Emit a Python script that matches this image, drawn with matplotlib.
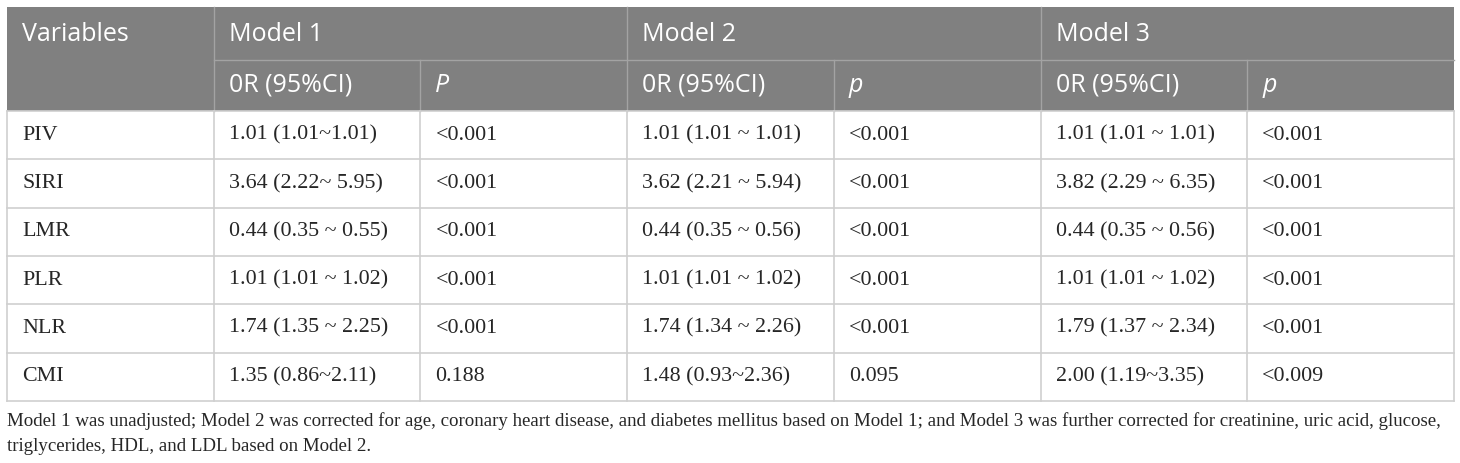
import matplotlib
matplotlib.use('Agg')
import matplotlib.pyplot as plt
from matplotlib.patches import Rectangle

# table content
variables = ['PIV', 'SIRI', 'LMR', 'PLR', 'NLR', 'CMI']
models = ['Model 1', 'Model 2', 'Model 3']
sub_headers = ['0R (95%CI)', 'P', '0R (95%CI)', 'p', '0R (95%CI)', 'p']
model1_or = ['1.01 (1.01~1.01)', '3.64 (2.22~ 5.95)', '0.44 (0.35 ~ 0.55)',
             '1.01 (1.01 ~ 1.02)', '1.74 (1.35 ~ 2.25)', '1.35 (0.86~2.11)']
model1_p = ['<0.001', '<0.001', '<0.001', '<0.001', '<0.001', '0.188']
model2_or = ['1.01 (1.01 ~ 1.01)', '3.62 (2.21 ~ 5.94)', '0.44 (0.35 ~ 0.56)',
             '1.01 (1.01 ~ 1.02)', '1.74 (1.34 ~ 2.26)', '1.48 (0.93~2.36)']
model2_p = ['<0.001', '<0.001', '<0.001', '<0.001', '<0.001', '0.095']
model3_or = ['1.01 (1.01 ~ 1.01)', '3.82 (2.29 ~ 6.35)', '0.44 (0.35 ~ 0.56)',
             '1.01 (1.01 ~ 1.02)', '1.79 (1.37 ~ 2.34)', '2.00 (1.19~3.35)']
model3_p = ['<0.001', '<0.001', '<0.001', '<0.001', '<0.001', '<0.009']
caption_lines = [
    'Model 1 was unadjusted; Model 2 was corrected for age, coronary heart disease, and diabetes mellitus '
    'based on Model 1; and Model 3 was further corrected for creatinine, uric acid, glucose,',
    'triglycerides, HDL, and LDL based on Model 2.',
]

W, H = 1460, 463
fig = plt.figure(figsize=(W / 100, H / 100), dpi=100)
ax = fig.add_axes([0, 0, 1, 1])
ax.set_xlim(0, W)
ax.set_ylim(H, 0)
ax.axis('off')

head_gray = '#808080'
head_line = '#a3a3a3'
grid = '#cfcfcf'
txt = '#262626'
sans = 'Open Sans'
serif = 'Liberation Serif'

left, right = 7, 1454
top, h1, h2 = 7, 60, 111
row_h = 48.3
ncol = 7
cw = (right - left) / ncol
xs = [left + i * cw for i in range(ncol + 1)]
bottom = h2 + row_h * len(variables)
pad = 15

# header background
ax.add_patch(Rectangle((left, top), right - left, h2 - top, color=head_gray, lw=0))
ax.plot([xs[1], right], [h1, h1], color=head_line, lw=1)
for i in (1, 3, 5):
    ax.plot([xs[i], xs[i]], [top, h2], color=head_line, lw=1)
for i in (2, 4, 6):
    ax.plot([xs[i], xs[i]], [h1, h2], color=head_line, lw=1)

ax.text(left + pad, (top + h1) / 2 + 1, 'Variables', color='white', fontsize=18,
        family=sans, va='center', ha='left')
for k, m in enumerate(models):
    ax.text(xs[1 + 2 * k] + pad, (top + h1) / 2 + 1, m, color='white', fontsize=18,
            family=sans, va='center', ha='left')
for j, s in enumerate(sub_headers):
    style = 'italic' if j % 2 else 'normal'
    ax.text(xs[1 + j] + pad, (h1 + h2) / 2, s, color='white', fontsize=18,
            family=sans, style=style, va='center', ha='left')

# body grid
for r in range(len(variables) + 1):
    y = h2 + r * row_h
    ax.plot([left, right], [y, y], color=grid, lw=1.2)
for x in xs:
    ax.plot([x, x], [h2, bottom], color=grid, lw=1.2)

cols = [variables, model1_or, model1_p, model2_or, model2_p, model3_or, model3_p]
for c, values in enumerate(cols):
    for r, v in enumerate(values):
        ax.text(xs[c] + pad, h2 + (r + 0.5) * row_h, v, color=txt, fontsize=15.8,
                family=serif, va='center', ha='left')

# caption: first line sized to fill the table width
fig.canvas.draw()
renderer = fig.canvas.get_renderer()
cap_y = [bottom + 25, bottom + 50]
cap_size = 14
first = ax.text(left, cap_y[0], caption_lines[0], fontsize=cap_size, family=serif,
                color=txt, va='baseline', ha='left')
bb = first.get_window_extent(renderer)
cap_size = cap_size * (right - left) / bb.width
# step down until the line fits inside the table edge
for _ in range(20):
    first.set_fontsize(cap_size)
    if first.get_window_extent(renderer).x1 <= right:
        break
    cap_size -= 0.05
ax.text(left, cap_y[1], caption_lines[1], fontsize=cap_size, family=serif,
        color=txt, va='baseline', ha='left')

fig.savefig('out.png', dpi=100)
